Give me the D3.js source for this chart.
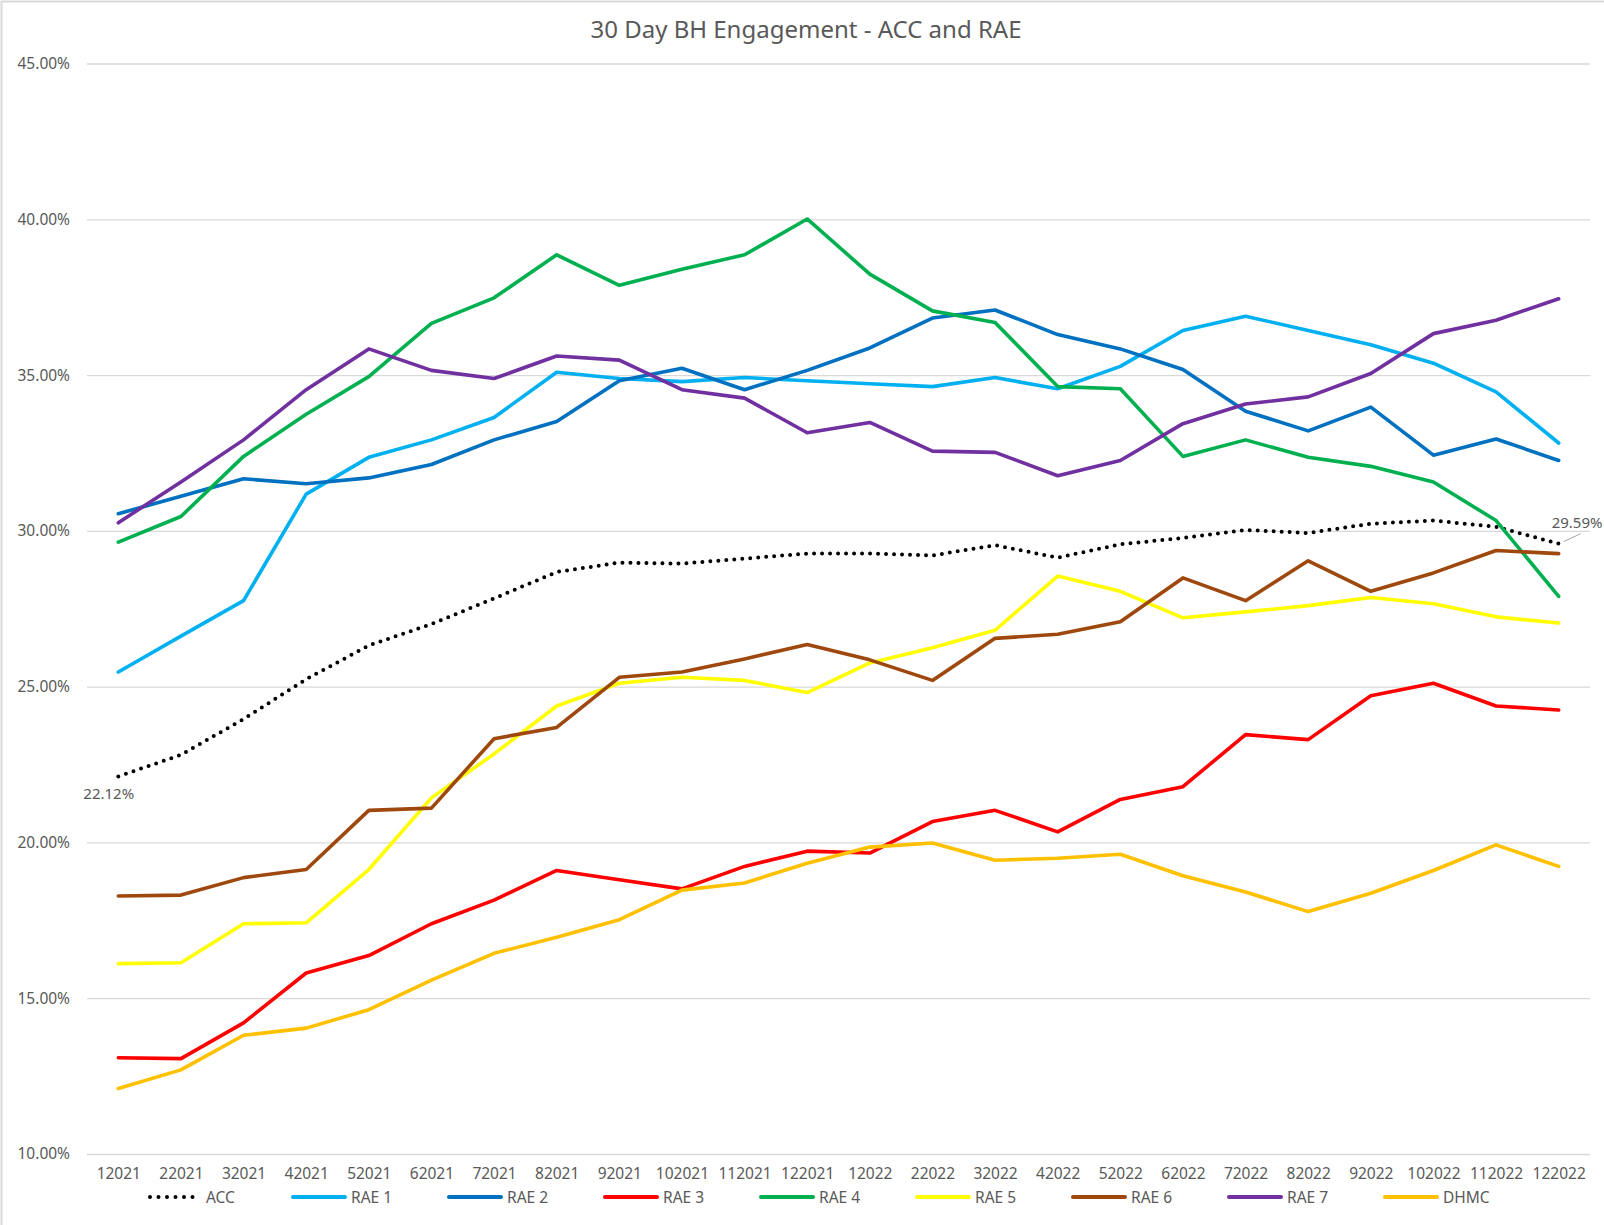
<!DOCTYPE html>
<html>
<head>
<meta charset="utf-8">
<script src="https://cdn.jsdelivr.net/npm/d3@7"></script>
<style>
  body { margin: 0; background: #fff; }
  text { font-family: "Noto Sans", "Open Sans", sans-serif; fill: #595959; }
</style>
</head>
<body>
<div id="chart"></div>
<script>
// month labels as they appear on the axis
const months = ['12021', '22021', '32021', '42021', '52021', '62021', '72021', '82021', '92021', '102021', '112021', '122021',
  '12022', '22022', '32022', '42022', '52022', '62022', '72022', '82022', '92022', '102022', '112022', '122022'];

const acc = [22.12, 22.81, 23.96, 25.24, 26.32, 27.01, 27.83, 28.68, 28.98, 28.95, 29.11, 29.27,
  29.27, 29.21, 29.54, 29.14, 29.57, 29.77, 30.03, 29.93, 30.23, 30.33, 30.13, 29.59];
const rae1 = [25.47, 26.62, 27.76, 31.18, 32.36, 32.92, 33.64, 35.09, 34.89, 34.79, 34.92, 34.82,
  34.72, 34.63, 34.92, 34.56, 35.28, 36.43, 36.89, 36.43, 35.97, 35.38, 34.46, 32.82];
const rae2 = [30.55, 31.11, 31.67, 31.51, 31.70, 32.13, 32.92, 33.51, 34.82, 35.22, 34.53, 35.15,
  35.87, 36.83, 37.09, 36.30, 35.84, 35.18, 33.84, 33.21, 33.97, 32.43, 32.95, 32.26];
const rae3 = [13.09, 13.06, 14.21, 15.81, 16.37, 17.39, 18.15, 19.10, 18.80, 18.51, 19.23, 19.72,
  19.66, 20.67, 21.03, 20.34, 21.38, 21.79, 23.46, 23.30, 24.71, 25.11, 24.38, 24.25];
const rae4 = [29.64, 30.46, 32.39, 33.74, 34.95, 36.66, 37.48, 38.86, 37.88, 38.40, 38.86, 40.01,
  38.24, 37.06, 36.69, 34.63, 34.56, 32.39, 32.92, 32.36, 32.07, 31.57, 30.33, 27.90];
const rae5 = [16.11, 16.14, 17.39, 17.42, 19.13, 21.43, 22.84, 24.38, 25.11, 25.30, 25.20, 24.81,
  25.76, 26.25, 26.81, 28.55, 28.06, 27.21, 27.40, 27.60, 27.86, 27.66, 27.24, 27.04];
const rae6 = [18.28, 18.31, 18.87, 19.13, 21.03, 21.10, 23.33, 23.69, 25.30, 25.47, 25.89, 26.35,
  25.86, 25.20, 26.55, 26.68, 27.08, 28.49, 27.76, 29.04, 28.06, 28.65, 29.37, 29.27];
const rae7 = [30.26, 31.57, 32.92, 34.53, 35.84, 35.15, 34.89, 35.61, 35.48, 34.53, 34.26, 33.15,
  33.48, 32.56, 32.52, 31.77, 32.26, 33.44, 34.07, 34.30, 35.05, 36.33, 36.76, 37.45];
const dhmc = [12.10, 12.70, 13.81, 14.04, 14.63, 15.58, 16.44, 16.96, 17.52, 18.47, 18.70, 19.33,
  19.85, 19.98, 19.43, 19.49, 19.62, 18.93, 18.41, 17.78, 18.37, 19.10, 19.92, 19.23];

const yTicks = [10, 15, 20, 25, 30, 35, 40, 45];

const series = [
  {name: 'ACC', values: acc, color: '#000000', dotted: true},
  {name: 'RAE 1', values: rae1, color: '#00B0F0'},
  {name: 'RAE 2', values: rae2, color: '#0070C0'},
  {name: 'RAE 3', values: rae3, color: '#FF0000'},
  {name: 'RAE 4', values: rae4, color: '#00B050'},
  {name: 'RAE 5', values: rae5, color: '#FFFF00'},
  {name: 'RAE 6', values: rae6, color: '#9E480E'},
  {name: 'RAE 7', values: rae7, color: '#7030A0'},
  {name: 'DHMC', values: dhmc, color: '#FFC000'}
];

const W = 1604, H = 1225;
const plot = {left: 87, right: 1590, top: 63.5, bottom: 1154};

const svg = d3.select('#chart').append('svg')
  .attr('width', W)
  .attr('height', H);

// chart area border (only top/left visible in the crop)
svg.append('rect')
  .attr('x', 1.5).attr('y', 1.5)
  .attr('width', W + 10).attr('height', H + 10)
  .attr('fill', 'none')
  .attr('stroke', '#d9d9d9')
  .attr('stroke-width', 2);

const x = d3.scalePoint()
  .domain(months)
  .range([plot.left, plot.right])
  .padding(0.5);

const y = d3.scaleLinear()
  .domain([10, 45])
  .range([plot.bottom, plot.top]);

svg.append('text')
  .attr('x', 806)
  .attr('y', 38)
  .attr('text-anchor', 'middle')
  .style('font-size', '24px')
  .text('30 Day BH Engagement - ACC and RAE');

// gridlines + y labels
const yAxis = d3.axisLeft(y)
  .tickValues(yTicks)
  .tickSize(-(plot.right - plot.left))
  .tickPadding(17)
  .tickFormat(d => d.toFixed(2) + '%');

const gy = svg.append('g')
  .attr('transform', `translate(${plot.left},0)`)
  .call(yAxis);
gy.select('.domain').remove();
gy.selectAll('line').attr('stroke', '#d9d9d9').attr('stroke-width', 1.3);
gy.selectAll('text').style('font-size', '15.5px').attr('fill', '#595959');

const xAxis = d3.axisBottom(x).tickSize(0).tickPadding(14);
const gx = svg.append('g')
  .attr('transform', `translate(0,${plot.bottom})`)
  .call(xAxis);
gx.select('.domain').remove();
gx.selectAll('text').style('font-size', '15.5px').attr('fill', '#595959');

const line = d3.line()
  .x((d, i) => x(months[i]))
  .y(d => y(d));

svg.selectAll('path.series')
  .data(series)
  .enter()
  .append('path')
  .attr('class', 'series')
  .attr('d', d => line(d.values))
  .attr('fill', 'none')
  .attr('stroke', d => d.color)
  .attr('stroke-width', d => d.dotted ? 4 : 3.6)
  .attr('stroke-linejoin', 'round')
  .attr('stroke-linecap', 'round')
  .attr('stroke-dasharray', d => d.dotted ? '0 8' : null);

// data labels on ACC ends
const firstX = x(months[0]), lastX = x(months[months.length - 1]);
svg.append('text')
  .attr('x', firstX - 35)
  .attr('y', y(acc[0]) + 23)
  .style('font-size', '15px')
  .text(acc[0].toFixed(2) + '%');

const lastY = y(acc[acc.length - 1]);
svg.append('line')
  .attr('x1', lastX + 5).attr('y1', lastY - 2)
  .attr('x2', lastX + 22).attr('y2', lastY - 10)
  .attr('stroke', '#a6a6a6')
  .attr('stroke-width', 1);
svg.append('text')
  .attr('x', lastX - 7)
  .attr('y', lastY - 16)
  .style('font-size', '15px')
  .text(acc[acc.length - 1].toFixed(2) + '%');

// legend
const legend = svg.append('g')
  .attr('transform', 'translate(137,1197)');

const item = legend.selectAll('g')
  .data(series)
  .enter()
  .append('g')
  .attr('transform', (d, i) => `translate(${i * 156 + (d.dotted ? 11 : 0)},0)`);

item.append('line')
  .attr('x1', d => d.dotted ? 2 : 0).attr('x2', 52)
  .attr('stroke', d => d.color)
  .attr('stroke-width', d => d.dotted ? 4 : 4)
  .attr('stroke-linecap', 'round')
  .attr('stroke-dasharray', d => d.dotted ? '0 8.5' : null);

item.append('text')
  .attr('x', 58)
  .attr('y', 5.5)
  .style('font-size', '15.5px')
  .text(d => d.name);
</script>
</body>
</html>
